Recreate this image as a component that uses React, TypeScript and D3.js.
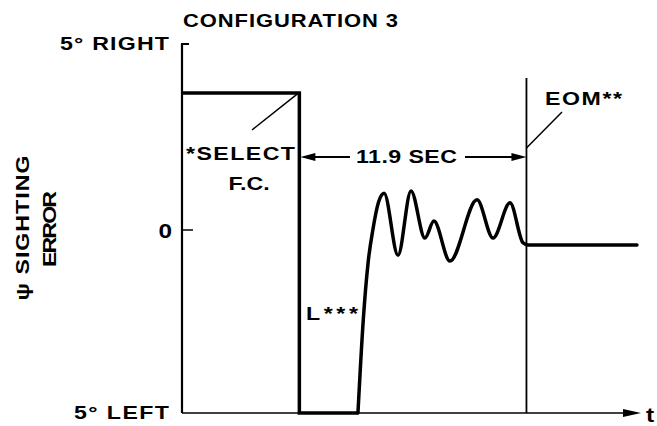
import React from "react";
import * as d3 from "d3";

// Time in seconds, error in degrees
const stepT = [0, 6.15, 6.15, 9.22];
const stepV = [3.68, 3.68, -5, -5];
const respT = [9.22, 9.5, 9.75, 10.0, 10.3, 10.59, 11.32, 12.0, 12.73, 13.2, 14.04, 15.46, 16.3, 17.19, 17.87, 18.13, 23.84];
const respV = [-5, -2.45, -0.9, 0.0, 0.75, 0.99, -0.69, 1.05, -0.22, 0.24, -0.85, 0.81, -0.22, 0.73, -0.35, -0.41, -0.41];
const selectT = 6.15;
const intervalSec = 11.9;
const eomT = selectT + intervalSec;
const yTickValues = [5, 0, -5];
const yTickLabels = ["5° RIGHT", "0", "5° LEFT"];

const W = 657, H = 426;
const FONT = "'Liberation Sans', Arial, Helvetica, sans-serif";
const SX = 1.22;

export default function App() {
  const x = d3.scaleLinear().domain([0, 24]).range([182, 640]);
  const y = d3.scaleLinear().domain([-5, 0, 5]).range([413, 230, 44]);

  const stepLine = d3.line<number>().x((d, i) => x(stepT[i])).y((d, i) => y(stepV[i])).curve(d3.curveLinear);
  const respLine = d3.line<number>().x((d, i) => x(respT[i])).y((d, i) => y(respV[i])).curve(d3.curveMonotoneX);

  const x0 = x(0);
  const xs = x(selectT);
  const xe = x(eomT);
  const arrowY = 157;

  const txt = (s: string, xx: number, yy: number, len: number | null, size = 19, extra: any = {}, rot = 0) => (
    <text transform={`translate(${xx},${yy}) rotate(${rot}) scale(${SX},1)`} x={0} y={0}
      fontFamily={FONT} fontWeight="bold" fontSize={size} fill="#000"
      {...(len ? { textLength: len / SX, lengthAdjust: "spacing" } : {})} {...extra}>{s}</text>
  );

  return (
    <svg width={W} height={H} style={{ position: "absolute", left: 0, top: 0, background: "#fff" }}>
      {/* title */}
      {txt("CONFIGURATION 3", 183, 27, 215, 18)}

      {/* y axis */}
      <line x1={x0} x2={x0} y1={y(5)} y2={y(-5)} stroke="#000" strokeWidth={2.2} />
      <line x1={x0 - 1} x2={x0 + 7} y1={y(5)} y2={y(5)} stroke="#000" strokeWidth={2} />
      <line x1={x0} x2={x0 + 11} y1={y(0)} y2={y(0)} stroke="#000" strokeWidth={1.5} />
      {/* tick labels */}
      {txt(yTickLabels[0], 60, y(yTickValues[0]) + 6, 109, 19)}
      {txt(yTickLabels[1], 172, y(yTickValues[1]) + 8, null, 20, { textAnchor: "end" })}
      {txt(yTickLabels[2], 74, y(yTickValues[2]) + 6, 95, 19)}

      {/* y axis title */}
      {txt("ψ SIGHTING", 29, 228, 145, 19, { textAnchor: "middle" }, -90)}
      {txt("ERROR", 56, 229, 76, 19, { textAnchor: "middle" }, -90)}

      {/* x axis with arrow */}
      <line x1={x0} x2={x(24) - 14} y1={y(-5)} y2={y(-5)} stroke="#000" strokeWidth={1.6} />
      <path d={`M${x(24) + 1},${y(-5)} L${x(24) - 17},${y(-5) - 4} L${x(24) - 17},${y(-5) + 4} Z`} fill="#000" />
      {txt("t", 646, 422, null, 20)}

      {/* EOM line */}
      <line x1={xe} x2={xe} y1={78} y2={y(-5)} stroke="#000" strokeWidth={1.8} />

      {/* signal */}
      <path d={stepLine(stepT) || ""} fill="none" stroke="#000" strokeWidth={3.5} strokeLinejoin="miter" />
      <path d={respLine(respT) || ""} fill="none" stroke="#000" strokeWidth={3.5} strokeLinejoin="round" strokeLinecap="round" />

      {/* SELECT annotation */}
      <line x1={252} y1={130} x2={xs - 1} y2={y(3.68)} stroke="#000" strokeWidth={1.5} />
      {txt("*SELECT", 186, 160, 109, 19)}
      {txt("F.C.", 249, 190, null, 19, { textAnchor: "middle" })}

      {/* 11.9 SEC dimension */}
      <line x1={xs + 12} x2={350} y1={arrowY} y2={arrowY} stroke="#000" strokeWidth={2} />
      <path d={`M${xs + 1},${arrowY} L${xs + 16},${arrowY - 4} L${xs + 16},${arrowY + 4} Z`} fill="#000" />
      {txt(`${intervalSec} SEC`, 356, 163, 101, 19)}
      <line x1={465} x2={xe - 12} y1={arrowY} y2={arrowY} stroke="#000" strokeWidth={2} />
      <path d={`M${xe},${arrowY} L${xe - 15},${arrowY - 4} L${xe - 15},${arrowY + 4} Z`} fill="#000" />

      {/* EOM annotation */}
      <line x1={xe} y1={148} x2={562} y2={112} stroke="#000" strokeWidth={1.5} />
      {txt("EOM**", 545, 105, 77, 19)}

      {/* L*** */}
      {txt("L***", 306, 320, 52, 19)}
    </svg>
  );
}
